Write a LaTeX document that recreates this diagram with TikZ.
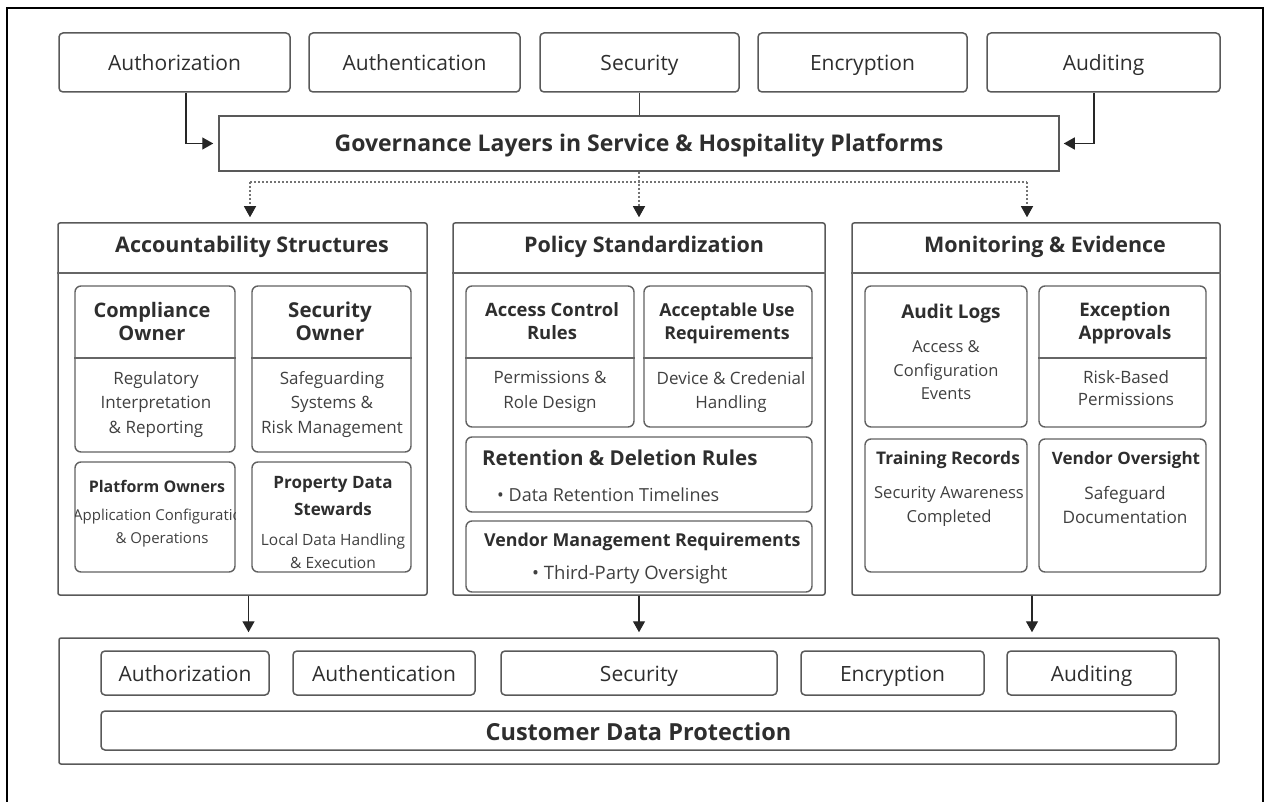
\documentclass[tikz,border=0pt]{standalone}
\usepackage{fontspec}
\setmainfont{Open Sans}
\usetikzlibrary{arrows.meta}

% box node from corner coordinates: name, x1, y1, x2, y2, style, text
\newcommand\placebox[7]{%
  \node[#6, minimum width=#4pt-#2pt, minimum height=#5pt-#3pt]
    (#1) at ({(#2+#4)/2},{(#3+#5)/2}) {#7};}
\newcommand\fs[2]{\fontsize{#1}{#2}\selectfont}

\tikzset{
  ink/.style={text=black!82},
  frameline/.style={line width=2.6pt, draw=black},
  topbox/.style={draw=black!65, line width=1.5pt, rounded corners=4pt, inner sep=0pt,
    ink, font=\fs{21}{24}, text height=16pt, text depth=0pt},
  govbox/.style={draw=black!65, line width=1.5pt, inner sep=0pt, ink,
    font=\bfseries\fs{23}{26}, text height=16pt, text depth=0pt},
  panel/.style={draw=black!65, line width=1.5pt, rounded corners=2pt, inner sep=0pt},
  ptitle/.style={ink, inner sep=0pt, anchor=base, font=\bfseries\fs{21.5}{24}},
  card/.style={draw=black!62, line width=1.4pt, rounded corners=6pt, inner sep=0pt},
  sepline/.style={draw=black!60, line width=1.1pt},
  ctitle/.style={ink, inner sep=0pt, anchor=north, align=center, font=\bfseries\fs{19.5}{23}},
  cbody/.style={text=black!75, inner sep=0pt, anchor=north, align=center, font=\fs{17}{24.5}},
  ltitle/.style={ink, inner sep=0pt, anchor=base west, font=\bfseries\fs{20.5}{24}},
  lbody/.style={text=black!75, inner sep=0pt, anchor=base west, font=\fs{18}{22}},
  flow/.style={draw=black!85, line width=1.4pt, -{Triangle[width=12pt,length=11pt]}},
  dotline/.style={draw=black!55, line width=1.1pt, dash pattern=on 2pt off 2pt},
  dotflow/.style={dotline, -{Triangle[width=12pt,length=11pt,color=black!85,fill=black!85]}},
}

\begin{document}
\begin{tikzpicture}[x=1pt,y=-1pt]
\useasboundingbox (0,0) rectangle (1266,802);

% outer frame (open at the bottom edge of the page)
\draw[frameline] (7,820) -- (7,8) -- (1263,8) -- (1263,820);

% top row of concerns
\placebox{t-authz}{59}{33}{290}{92}{topbox}{Authorization}
\placebox{t-authn}{309}{33}{520}{92}{topbox}{Authentication}
\placebox{t-sec}{540}{33}{739}{92}{topbox}{Security}
\placebox{t-enc}{758}{33}{967}{92}{topbox}{Encryption}
\placebox{t-aud}{987}{33}{1220}{92}{topbox}{Auditing}

% governance banner
\placebox{gov}{219}{116}{1059}{171}{govbox}{Governance Layers in Service \& Hospitality Platforms}

\draw[flow, shorten >=5pt] ([xshift=11.5pt]t-authz.south) |- (gov.west);
\draw[flow, shorten >=4pt] ([xshift=-9.5pt]t-aud.south) |- (gov.east);
\draw[draw=black!75, line width=1.4pt] (t-sec.south) -- (t-sec.south |- gov.north);

% three pillars
\placebox{acc}{58}{223}{427}{595}{panel}{}
\placebox{pol}{453}{223}{825}{595}{panel}{}
\placebox{mon}{852}{223}{1220}{595}{panel}{}
\draw[sepline, line width=1.4pt] (acc.west |- 0,273) -- (acc.east |- 0,273);
\draw[sepline, line width=1.4pt] (pol.west |- 0,273) -- (pol.east |- 0,273);
\draw[sepline, line width=1.4pt] (mon.west |- 0,273) -- (mon.east |- 0,273);
\node[ptitle] (acc-t) at (252,253) {Accountability Structures};
\node[ptitle] (pol-t) at (644,253) {Policy Standardization};
\node[ptitle] (mon-t) at (1045,253) {Monitoring \& Evidence};

% dotted fan-out from the governance banner
\coordinate (fan-l) at (250,182);
\coordinate (fan-r) at (1027,182);
\draw[dotline] (fan-l) -- (fan-r);
\draw[dotflow, shorten >=5pt] (fan-l) -- (fan-l |- acc.north);
\draw[dotflow, shorten >=5pt] (gov.south) -- (gov.south |- pol.north);
\draw[dotflow, shorten >=5pt] (fan-r) -- (fan-r |- mon.north);

% accountability cards
\placebox{co}{75}{286}{235}{452}{card}{}
\placebox{so}{252}{286}{411}{452}{card}{}
\placebox{po}{75}{462}{235}{572}{card}{}
\placebox{pds}{252}{462}{411}{572}{card}{}
\draw[sepline] (co.west |- 0,358) -- (co.east |- 0,358);
\draw[sepline] (so.west |- 0,358) -- (so.east |- 0,358);
\node[ctitle, font=\bfseries\fs{20}{23}] (co-t) at (152,302) {Compliance\\Owner};
\node[cbody] (co-b) at (156,371) {Regulatory\\Interpretation\\\& Reporting};
\node[ctitle, font=\bfseries\fs{20.5}{23}] (so-t) at (330,302) {Security\\Owner};
\node[cbody] (so-b) at (332,371) {Safeguarding\\Systems \&\\Risk Management};
\node[ctitle, font=\bfseries\fs{16}{23}] (po-t) at (157,480.5) {Platform Owners};
\begin{scope}
  \clip[rounded corners=6pt] (po.north west) rectangle (po.south east);
  \node[cbody, font=\fs{15}{23}] (po-b) at (162,509) {Application Configuration\\\& Operations};
\end{scope}
\node[ctitle, font=\bfseries\fs{17}{27}] (pds-t) at (333,476) {Property Data\\Stewards};
\node[cbody, font=\fs{15.5}{23}] (pds-b) at (333,534) {Local Data Handling\\\& Execution};

% policy cards
\placebox{acr}{466}{286}{634}{427}{card}{}
\placebox{aur}{644}{286}{812}{427}{card}{}
\placebox{ret}{466}{437}{812}{512}{card}{}
\placebox{vmr}{466}{521}{812}{592}{card}{}
\draw[sepline] (acr.west |- 0,358) -- (acr.east |- 0,358);
\draw[sepline] (aur.west |- 0,358) -- (aur.east |- 0,358);
\node[ctitle, font=\bfseries\fs{18.4}{23}] (acr-t) at (552,302.5) {Access Control\\Rules};
\node[cbody] (acr-b) at (550,371) {Permissions \&\\Role Design};
\node[ctitle, font=\bfseries\fs{17.8}{23}] (aur-t) at (727,303) {Acceptable Use\\Requirements};
\node[cbody] (aur-b) at (731,371) {Device \& Credenial\\Handling};
\node[ltitle] (ret-t) at (482,465.4) {Retention \& Deletion Rules};
\node[lbody] (ret-b) at (497,501.5) {\textbullet\ Data Retention Timelines};
\node[ltitle, font=\bfseries\fs{17.8}{22}] (vmr-t) at (484,546.4) {Vendor Management Requirements};
\node[lbody, font=\fs{18.5}{22}] (vmr-b) at (532,579.6) {\textbullet\ Third-Party Oversight};

% monitoring cards
\placebox{al}{865}{286}{1027}{427}{card}{}
\placebox{ea}{1039}{286}{1206}{427}{card}{}
\placebox{tr}{865}{439}{1027}{572}{card}{}
\placebox{vo}{1039}{439}{1206}{572}{card}{}
\draw[sepline] (ea.west |- 0,358) -- (ea.east |- 0,358);
\node[ctitle, font=\bfseries\fs{19}{23}] (al-t) at (951,303.5) {Audit Logs};
\node[cbody, font=\fs{16.5}{23.5}] (al-b) at (946,340.4) {Access \&\\Configuration\\Events};
\node[ctitle, font=\bfseries\fs{18.7}{23}] (ea-t) at (1125,302.5) {Exception\\Approvals};
\node[cbody, font=\fs{17}{22}] (ea-b) at (1126,370.2) {Risk-Based\\Permissions};
\node[ctitle, font=\bfseries\fs{17.4}{23}] (tr-t) at (948,451) {Training Records};
\node[cbody, font=\fs{16.6}{24}] (tr-b) at (949,486.4) {Security Awareness\\Completed};
\node[ctitle, font=\bfseries\fs{17}{23}] (vo-t) at (1126,451) {Vendor Oversight};
\node[cbody, font=\fs{17.2}{24.5}] (vo-b) at (1125,486) {Safeguard\\Documentation};

% customer data protection base
\placebox{base}{59}{638}{1219}{764}{panel}{}
\draw[flow, shorten >=5pt] ([xshift=6pt]acc.south) -- ([xshift=6pt]acc.south |- base.north);
\draw[flow, shorten >=5pt] (pol.south) -- (pol.south |- base.north);
\draw[flow, shorten >=5pt] ([xshift=-4pt]mon.south) -- ([xshift=-4pt]mon.south |- base.north);

\placebox{b-authz}{101}{651}{269}{695}{topbox}{Authorization}
\placebox{b-authn}{293}{651}{475}{695}{topbox}{Authentication}
\placebox{b-sec}{501}{651}{777}{695}{topbox}{Security}
\placebox{b-enc}{801}{651}{984}{695}{topbox}{Encryption}
\placebox{b-aud}{1007}{651}{1176}{695}{topbox}{Auditing}
\placebox{cdp}{101}{711}{1176}{750}{topbox, font=\bfseries\fs{23.5}{26}, text height=19pt}{Customer Data Protection}

\end{tikzpicture}
\end{document}
